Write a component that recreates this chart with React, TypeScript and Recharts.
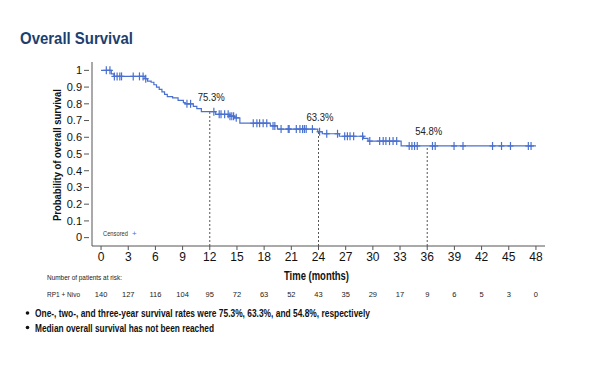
import React from 'react';
import { ComposedChart, Line, Scatter, XAxis, YAxis, ReferenceLine, ReferenceDot, Label } from 'recharts';

// Kaplan-Meier steps (months, survival probability)
const stepTimes = [0, 1.13, 1.42, 4.84, 5.13, 5.53, 5.83, 6.12, 6.42, 6.72, 7.01, 7.31, 7.9, 8.5, 9.09, 9.29, 10.18, 10.57, 11.07,
  12.65, 14.13, 14.73, 15.32, 18.68, 19.47, 23.92, 24.42, 26.3, 28.97, 29.46, 33.12, 48];
const stepSurv = [1.0, 0.979, 0.964, 0.95, 0.936, 0.929, 0.914, 0.9, 0.886, 0.871, 0.857, 0.843, 0.836, 0.821, 0.807, 0.8, 0.785, 0.771, 0.753,
  0.737, 0.726, 0.716, 0.684, 0.668, 0.649, 0.633, 0.621, 0.606, 0.593, 0.577, 0.548, 0.548];

// censored observations (months)
const censorTimes = [0.58, 0.98, 1.47, 1.77, 2.07, 2.26, 3.55, 4.24, 4.64, 4.93, 9.48, 9.88, 12.45, 13.04, 13.24, 13.64, 14.03,
  14.23, 14.43, 14.63, 14.92, 16.8, 17.2, 17.5, 17.89, 18.29, 18.98, 19.18, 19.87, 20.66, 20.76, 21.55, 21.95, 22.24, 22.44, 22.64, 23.33,
  24.12, 24.91, 26.1, 26.89, 27.19, 27.48, 27.88, 28.87, 29.66, 30.75, 31.14, 31.44, 31.84, 32.23, 32.63,
  34.01, 34.31, 34.6, 34.9, 36.58, 36.88, 38.96, 39.95, 43.21, 44.2, 45.19, 47.16, 47.46];

const landmarkTimes = [12, 24, 36];
const landmarkSurv = [0.753, 0.633, 0.548];
const landmarkLabels = ['75.3%', '63.3%', '54.8%'];

const monthTicks = [0, 3, 6, 9, 12, 15, 18, 21, 24, 27, 30, 33, 36, 39, 42, 45, 48];
const atRisk = [140, 127, 116, 104, 95, 72, 63, 52, 43, 35, 29, 17, 9, 6, 5, 3, 0];
const probTicks = [0, 0.1, 0.2, 0.3, 0.4, 0.5, 0.6, 0.7, 0.8, 0.9, 1];

const BLUE = '#4a70cf';
const SANS = "'Liberation Sans', Arial, sans-serif";
const FIT = 'spacingAndGlyphs';

const kmData = stepTimes.map((t, i) => ({ t, s: stepSurv[i] }));

const survAt = (t: number) => {
  let s = stepSurv[0];
  for (let i = 0; i < stepTimes.length; i++) {
    if (stepTimes[i] <= t) s = stepSurv[i];
  }
  return s;
};
const censorData = censorTimes.map(t => ({ t, s: survAt(t) }));

const CensorMark = (props: any) => {
  const { cx, cy } = props;
  return (
    <g stroke={BLUE} strokeWidth={1.2}>
      <line x1={cx} y1={cy - 4} x2={cx} y2={cy + 4} />
      <line x1={cx - 3} y1={cy} x2={cx + 3} y2={cy} />
    </g>
  );
};

const RiskTick = (props: any) => {
  const { x, y, payload, index } = props;
  return (
    <g>
      <text x={x} y={y} dy="0.71em" textAnchor="middle" fontSize={12} fontFamily={SANS} fill="#111">
        {payload.value}
      </text>
      <text x={x} y={y + 44.5} textAnchor="middle" fontSize={7.5} fontFamily={SANS} fill="#222">
        {atRisk[index]}
      </text>
    </g>
  );
};

const ProbTick = (props: any) => {
  const { x, y, payload } = props;
  return (
    <g>
      <line x1={x - 2} y1={y} x2={x + 3} y2={y} stroke="#555" />
      <text x={x - 4} y={y} dy="0.35em" textAnchor="end" fontSize={11} fontFamily={SANS} fill="#111">
        {payload.value}
      </text>
    </g>
  );
};

const YTitle = (props: any) => {
  const { viewBox } = props;
  const cx = viewBox.x + 5;
  const cy = viewBox.y + viewBox.height / 2 + 1;
  return (
    <text x={cx} y={cy} transform={`rotate(-90, ${cx}, ${cy})`} textAnchor="middle" dominantBaseline="central"
      fontFamily={SANS} fontWeight="bold" fontSize={10.5} fill="#111" textLength={132} lengthAdjust={FIT}>
      Probability of overall survival
    </text>
  );
};

const XTitle = (props: any) => {
  const { viewBox } = props;
  const cx = viewBox.x + viewBox.width / 2 - 2;
  return (
    <text x={cx} y={viewBox.y + 34} textAnchor="middle" fontFamily={SANS} fontWeight="bold" fontSize={12} fill="#111"
      textLength={65} lengthAdjust={FIT}>
      Time (months)
    </text>
  );
};

const landmarkLabel = (text: string) => (props: any) => {
  const { viewBox } = props;
  return (
    <text x={viewBox.x + 1.5} y={viewBox.y - 10.5} textAnchor="middle" fontFamily={SANS} fontSize={11} fill="#222"
      textLength={27} lengthAdjust={FIT}>
      {text}
    </text>
  );
};

export default function App() {
  return (
    <div style={{ position: 'absolute', left: 0, top: 0, width: 600, height: 365, background: '#fff' }}>
      <ComposedChart width={600} height={365} margin={{ top: 62, right: 55, bottom: 89, left: 52 }}>
        <XAxis
          type="number"
          dataKey="t"
          domain={[-1, 49]}
          ticks={monthTicks}
          interval={0}
          height={30}
          tickSize={4}
          tickMargin={2}
          stroke="#555"
          tick={<RiskTick />}
        >
          <Label content={<XTitle />} />
        </XAxis>
        <YAxis
          type="number"
          domain={[-0.05, 1.05]}
          ticks={probTicks}
          interval={0}
          width={40}
          tickSize={4}
          tickMargin={2}
          tickLine={false}
          stroke="#555"
          tick={<ProbTick />}
        >
          <Label content={<YTitle />} />
        </YAxis>
        {landmarkTimes.map((t, i) => (
          <ReferenceLine key={'l' + t} segment={[{ x: t, y: -0.05 }, { x: t, y: landmarkSurv[i] }]} stroke="#555" strokeDasharray="2 2" />
        ))}
        <Line data={kmData} dataKey="s" type="stepAfter" stroke={BLUE} strokeWidth={1.2} dot={false} isAnimationActive={false} />
        <Scatter data={censorData} dataKey="s" shape={<CensorMark />} isAnimationActive={false} />
        {landmarkTimes.map((t, i) => (
          <ReferenceDot key={'d' + t} x={t} y={landmarkSurv[i]} r={0} stroke="none" fill="none">
            <Label content={landmarkLabel(landmarkLabels[i])} />
          </ReferenceDot>
        ))}
      </ComposedChart>
      <svg width={600} height={365} style={{ position: 'absolute', left: 0, top: 0, pointerEvents: 'none' }}>
        <text x={20} y={44} fontFamily={SANS} fontWeight="bold" fontSize={17} fill="#1d3f70" textLength={113} lengthAdjust={FIT}>
          Overall Survival
        </text>
        <text x={103} y={236} fontFamily={SANS} fontSize={6.3} fill="#333" textLength={25} lengthAdjust={FIT}>Censored</text>
        <text x={132} y={236} fontFamily={SANS} fontSize={8} fill={BLUE}>+</text>
        <text x={47} y={279.5} fontFamily={SANS} fontSize={7.5} fill="#222" textLength={75} lengthAdjust={FIT}>
          Number of patients at risk:
        </text>
        <text x={47} y={296.5} fontFamily={SANS} fontSize={7.5} fill="#222" textLength={33} lengthAdjust={FIT}>
          RP1 + Nivo
        </text>
        <circle cx={27.5} cy={313} r={1.8} fill="#111" />
        <text x={35} y={317} fontFamily={SANS} fontWeight="bold" fontSize={10.5} fill="#111" textLength={335} lengthAdjust={FIT}>
          One-, two-, and three-year survival rates were 75.3%, 63.3%, and 54.8%, respectively
        </text>
        <circle cx={27.5} cy={327.5} r={1.8} fill="#111" />
        <text x={35} y={331.5} fontFamily={SANS} fontWeight="bold" fontSize={10.5} fill="#111" textLength={179} lengthAdjust={FIT}>
          Median overall survival has not been reached
        </text>
      </svg>
    </div>
  );
}
